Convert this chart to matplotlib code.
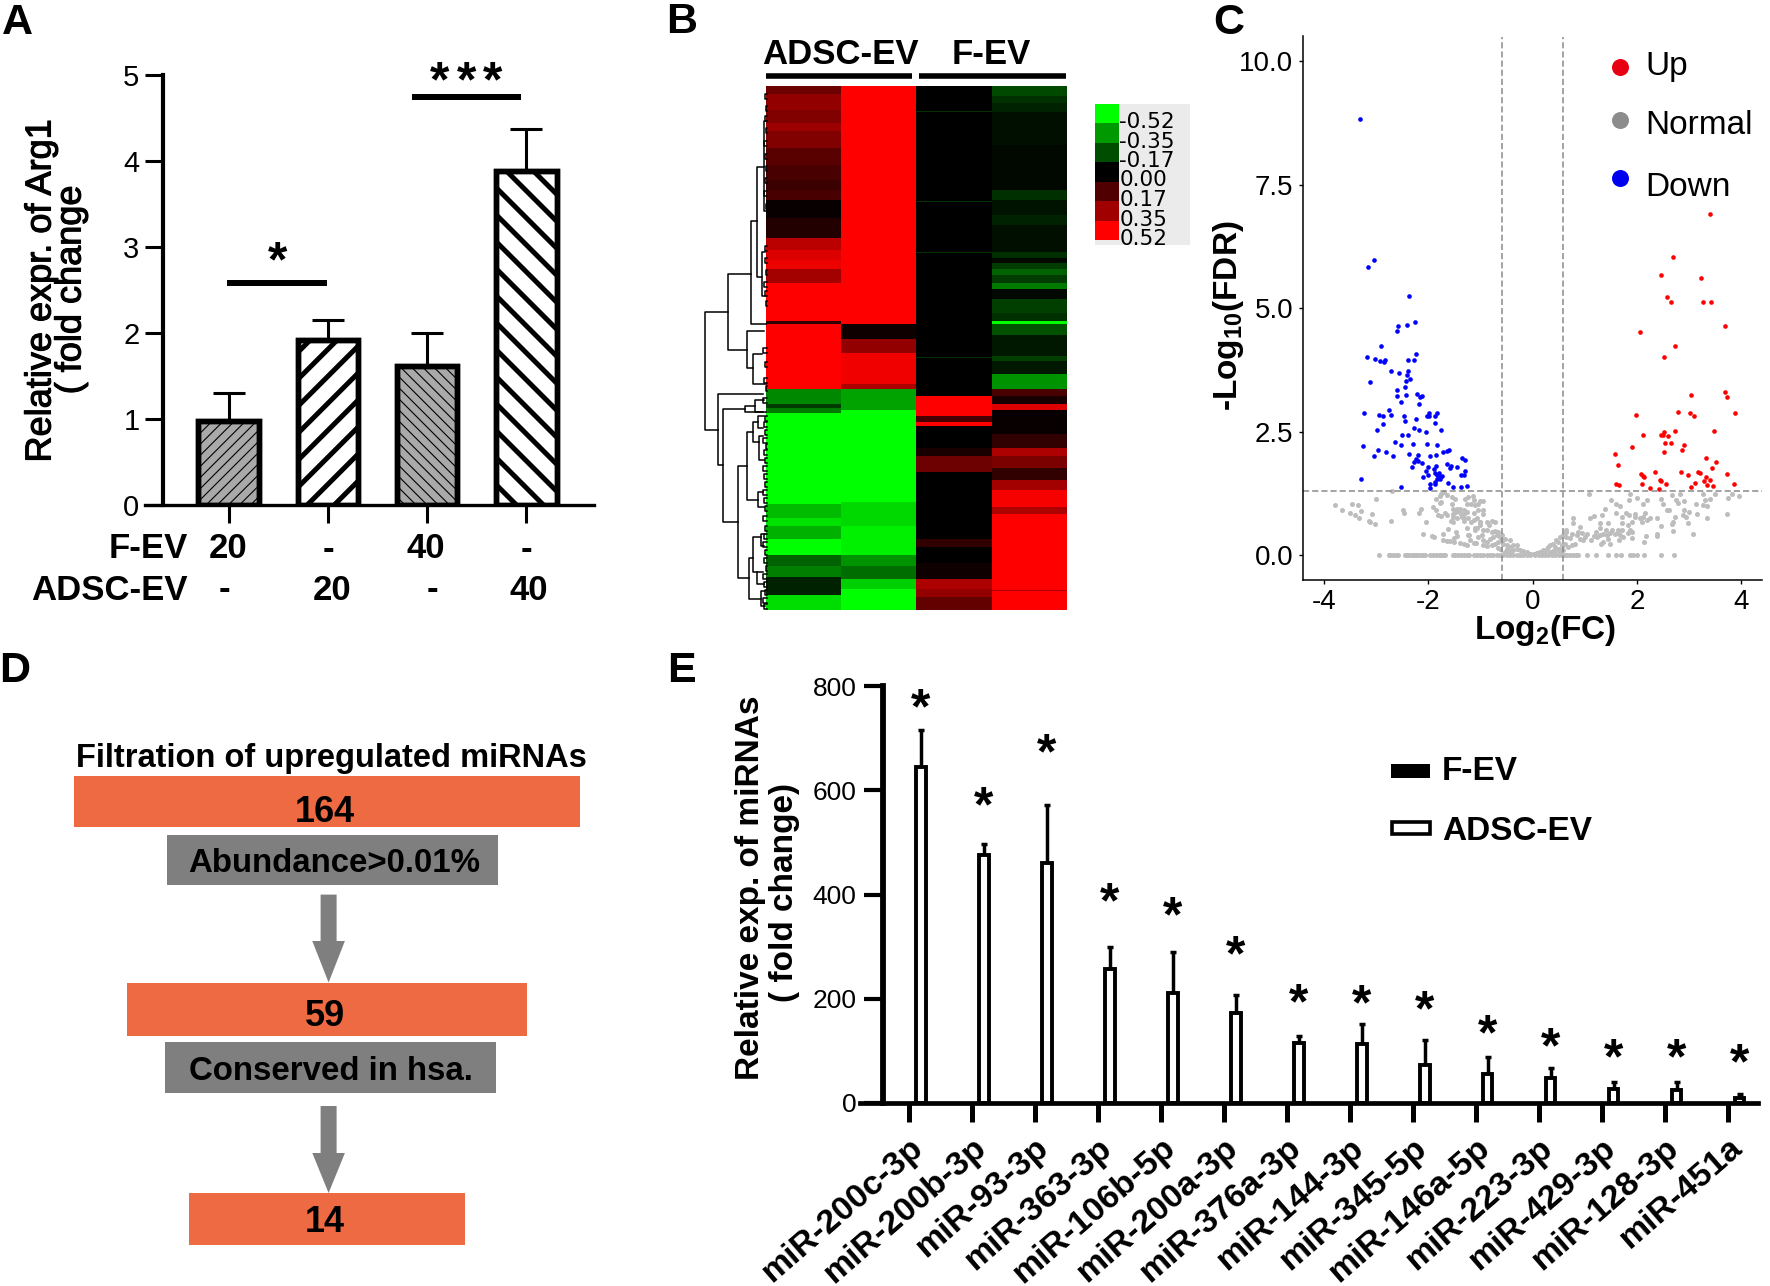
import numpy as np
import matplotlib
matplotlib.use('Agg')
import matplotlib.pyplot as plt
import matplotlib.patheffects as pe
from matplotlib import font_manager
from matplotlib.colors import LinearSegmentedColormap, ListedColormap
from matplotlib.patches import Rectangle, Polygon
from matplotlib.transforms import IdentityTransform

plt.rcParams['font.family'] = ['Liberation Sans', 'DejaVu Sans']
plt.rcParams['mathtext.default'] = 'regular'
plt.rcParams['hatch.linewidth'] = 0.8
plt.rcParams['axes.unicode_minus'] = False
# narrow face for the tick numbers if it is there, plain one otherwise
HAS_NARROW = 'Liberation Sans Narrow' in font_manager.get_font_names()
NARROW = 'Liberation Sans Narrow' if HAS_NARROW else 'Liberation Sans'

W, H = 1770, 1286

# panel A
arg1_means = [0.98, 1.92, 1.62, 3.88]
arg1_tops = [1.30, 2.15, 2.00, 4.37]
fev_row = ['20', '-', '40', '-']
adsc_row = ['-', '20', '-', '40']

# panel B, each column is (last row of a band, value of the band)
heat_stops_1 = [9, 25, 38, 46, 63, 80, 95, 105, 115, 133, 153, 165, 175, 184, 198, 236, 239, 303, 318, 322, 327, 418, 432, 440, 453, 469, 480, 491, 509, 524]
heat_vals_1 = [0.22, 0.30, 0.26, 0.32, 0.26, 0.18, 0.15, 0.12, 0.15, 0.02, 0.07, 0.38, 0.45, 0.48, 0.33, 0.52, 0.10, 0.52, -0.28, -0.12, -0.25, -0.52, -0.38, -0.46, -0.36, -0.52, -0.20, -0.26, -0.07, -0.45]
heat_stops_2 = [239, 254, 267, 298, 303, 324, 416, 440, 469, 480, 493, 503, 524]
heat_vals_2 = [0.52, 0.03, 0.30, 0.49, 0.35, -0.33, -0.52, -0.44, -0.49, -0.30, -0.22, -0.42, -0.52]
heat_stops_3 = [26, 27, 116, 117, 167, 168, 271, 272, 310, 330, 336, 340, 362, 370, 386, 453, 461, 477, 493, 503, 511, 524]
heat_vals_3 = [0, -0.1, 0, -0.1, 0, -0.1, 0, -0.1, 0, 0.52, 0.15, 0.52, 0, 0.05, 0.22, 0, 0.1, 0, 0.03, 0.35, 0.3, 0.2]
heat_stops_4 = [11, 18, 27, 60, 105, 115, 130, 140, 167, 173, 178, 184, 190, 198, 204, 214, 228, 236, 239, 250, 270, 275, 288, 303, 310, 318, 324, 348, 362, 370, 382, 394, 404, 421, 428, 504, 505, 524]
heat_vals_4 = [-0.15, -0.10, -0.07, -0.03, -0.02, -0.10, -0.04, -0.07, -0.03, -0.10, -0.02, -0.12, -0.20, -0.12, -0.25, -0.02, -0.13, -0.10, -0.52, -0.17, -0.05, -0.13, -0.05, -0.30, 0.15, 0.05, 0.45, 0.02, 0.10, 0.35, 0.25, 0.10, 0.33, 0.50, 0.35, 0.52, 0.35, 0.52]
scale_labels = ['-0.52', '-0.35', '-0.17', '0.00', '0.17', '0.35', '0.52']
scale_values = [-0.52, -0.35, -0.17, 0.0, 0.17, 0.35, 0.52]

# dendrogram merges: height, row 1, row 2, height of child 1, height of child 2
merges = [(62, 226, 344, 39, 49), (39, 188, 264, 16, 20), (16, 135, 238, 10, 0), (10, 81, 191, 3, 5),
          (3, 35, 125, 1, 1), (5, 166, 210, 2, 2), (20, 245, 282, 3, 14), (14, 268, 298, 5, 1),
          (49, 308, 379, 4, 44), (44, 323, 436, 22, 29), (22, 320, 326, 12, 4), (12, 314, 326, 3, 1),
          (29, 380, 492, 20, 18), (20, 346, 414, 14, 9), (14, 336, 356, 9, 8), (9, 330, 342, 3, 4),
          (8, 350, 374, 4, 3), (9, 406, 421, 4, 3), (18, 472, 513, 14, 6), (14, 451, 486, 6, 10),
          (10, 486, 498, 4, 3), (6, 448, 460, 2, 3), (6, 505, 520, 2, 2)]
twig_heights = [2, 1, 2, 1, 3, 2, 1, 2, 3, 1, 2, 2, 1, 3, 2, 1, 4, 2, 3, 1, 4, 2, 3, 2, 4, 1, 3, 2, 4, 3, 2, 4, 3, 2, 4, 2, 3, 4, 2, 3, 1, 4, 3, 2, 4, 3]
twig_rows = [8, 20, 30, 42, 55, 68, 80, 92, 105, 118, 160, 172, 184, 196, 205, 215, 262, 276, 292, 300, 312, 330, 336, 344, 352, 358, 364, 372, 380, 388, 396, 404, 412, 420, 430, 440, 448, 456, 464, 472, 480, 488, 496, 504, 512, 518]

# panel C
down_x = [-3.30, -3.04, -3.16, -2.37, -2.26, -2.58, -2.40, -2.60, -2.91, -2.23, -3.18, -3.02, -2.93, -2.85, -2.83, -2.39, -2.27, -2.72, -2.56, -2.39, -2.40, -2.34, -2.42, -3.11, -2.44, -2.60, -2.60, -2.42, -2.22, -2.12, -2.15, -2.53, -2.18, -2.76, -3.23, -2.94, -2.86, -2.72, -2.47, -1.98, -2.02, -1.99, -1.84, -1.87, -2.23, -2.44, -2.86, -1.86, -2.27, -2.18, -2.98, -1.75, -2.05, -2.50, -2.39, -2.64, -2.30, -2.03, -2.52, -3.25, -1.84, -2.97, -2.80, -1.61, -1.63, -1.71, -2.36, -2.19, -3.04, -2.68, -1.96, -1.85, -1.36, -1.30, -2.23, -2.19, -2.28, -2.11, -1.64, -1.56, -1.58, -1.85, -2.31, -2.01, -1.44, -1.89, -2.04, -1.29, -1.87, -1.79, -1.38, -1.31, -2.01, -1.73, -2.10, -1.84, -1.77, -1.83, -3.28, -1.78, -1.86, -1.62, -1.97, -1.87, -2.52, -1.25, -1.53, -1.38, -1.96]
down_y = [8.83, 5.97, 5.84, 5.24, 4.71, 4.64, 4.65, 4.54, 4.24, 4.07, 4.00, 3.96, 3.93, 3.91, 3.94, 3.94, 3.94, 3.73, 3.69, 3.73, 3.65, 3.56, 3.52, 3.50, 3.40, 3.35, 3.23, 3.24, 3.27, 3.21, 3.19, 3.09, 3.06, 2.93, 2.88, 2.83, 2.81, 2.84, 2.81, 2.88, 2.81, 2.82, 2.88, 2.81, 2.76, 2.71, 2.66, 2.67, 2.57, 2.54, 2.53, 2.53, 2.49, 2.43, 2.43, 2.28, 2.24, 2.25, 2.22, 2.20, 2.22, 2.13, 2.09, 2.13, 2.10, 2.09, 2.05, 2.03, 2.00, 2.01, 2.00, 2.02, 1.97, 1.93, 1.94, 1.90, 1.88, 1.87, 1.85, 1.81, 1.77, 1.81, 1.79, 1.78, 1.78, 1.75, 1.71, 1.70, 1.67, 1.67, 1.63, 1.63, 1.62, 1.61, 1.58, 1.63, 1.58, 1.54, 1.53, 1.53, 1.48, 1.46, 1.43, 1.43, 1.37, 1.39, 1.37, 1.37, 1.35]
up_x = [3.40, 2.70, 2.47, 3.24, 2.58, 2.66, 3.27, 3.42, 3.70, 2.06, 2.73, 2.52, 3.69, 3.04, 3.73, 2.78, 3.02, 3.10, 3.88, 1.99, 2.74, 3.48, 2.53, 2.51, 2.47, 2.60, 2.11, 2.54, 2.65, 2.90, 1.91, 2.86, 1.59, 2.52, 3.32, 3.52, 1.63, 3.44, 2.84, 2.34, 3.18, 3.21, 2.08, 2.98, 2.12, 2.14, 3.72, 3.32, 2.44, 2.47, 3.29, 3.41, 1.61, 1.66, 2.10, 2.55, 3.12, 3.34, 3.86, 3.03, 3.47, 2.25, 2.43]
up_y = [6.91, 6.04, 5.67, 5.61, 5.23, 5.13, 5.13, 5.12, 4.63, 4.51, 4.24, 4.01, 3.30, 3.24, 3.20, 2.89, 2.87, 2.81, 2.87, 2.83, 2.52, 2.52, 2.49, 2.44, 2.43, 2.41, 2.44, 2.27, 2.26, 2.22, 2.18, 2.13, 2.05, 2.08, 1.97, 1.89, 1.82, 1.77, 1.68, 1.69, 1.69, 1.66, 1.65, 1.62, 1.60, 1.57, 1.65, 1.57, 1.51, 1.49, 1.49, 1.51, 1.43, 1.42, 1.44, 1.44, 1.45, 1.42, 1.43, 1.38, 1.39, 1.35, 1.34]
normal_left_x = [-3.79, -3.46, -3.34, -3.65, -3.29, -3.50, -3.40, -3.08, -3.32, -3.14, -3.11, -3.02, -3.00, -2.70, -2.49, -2.47, -2.72, -2.13, -2.17, -2.05, -2.10, -1.93, -1.88, -1.62, -1.71, -1.47, -1.45, -1.71, -1.64, -1.58, -1.50, -1.50, -1.39, -1.32, -1.26, -1.20, -1.21, -1.13, -1.09, -1.10, -1.06, -1.00,
                 -1.85, -1.75, -1.69, -1.64, -1.75, -1.78, -1.55, -1.49, -1.29, -1.23, -1.15, -1.13, -1.00, -0.94, -1.78, -1.90, -1.85, -1.55, -1.53, -1.45, -1.39, -1.32, -1.26, -1.17, -1.10, -1.04,
                 -1.82, -1.76, -1.68, -1.63, -1.52, -1.47, -1.41, -1.38, -1.32, -1.26, -1.13, -1.05, -0.94, -1.53, -1.45, -1.36, -1.31, -1.23, -1.17, -1.07, -0.94,
                 -1.57, -1.52, -1.32, -1.13, -1.01, -0.88, -0.78, -0.72, -0.84, -1.26, -1.10, -1.01, -0.94, -0.88, -0.78, -0.72, -0.66,
                 -1.23, -1.04, -0.97, -0.94, -0.88, -0.81, -0.75, -0.69, -0.62, -0.59, -0.94, -0.88, -0.78, -0.72, -0.66, -0.59, -0.53,
                 -0.56, -0.49, -0.43, -0.43, -0.37, -0.30, -0.24, -0.18, -0.11, -0.05, 0.02, 0.08, 0.14, -0.37, -0.30, -0.49, -0.62, -0.53, -0.43, -0.66]
normal_left_y = [1.02, 1.04, 1.01, 0.92, 0.89, 0.86, 0.81, 0.83, 0.74, 0.69, 0.67, 0.62, 1.14, 1.29, 0.92, 0.86, 0.68, 0.94, 0.86, 0.67, 0.43, 0.38, 0.36, 0.52, 0.43, 0.47, 0.39, 0.31, 0.29, 0.29, 0.27, 0.35, 0.25, 0.23, 0.21, 0.30, 0.40, 0.25, 0.25, 0.50, 0.54, 0.67,
                 1.14, 1.23, 1.28, 1.21, 1.08, 1.19, 1.18, 1.14, 1.14, 1.18, 1.19, 1.11, 1.10, 1.10, 1.05, 0.97, 0.91, 1.03, 0.94, 0.94, 0.94, 0.92, 1.03, 1.03, 1.01, 1.03,
                 0.81, 0.79, 0.85, 0.81, 0.84, 0.87, 0.89, 0.84, 0.84, 0.87, 0.86, 0.91, 0.91, 0.76, 0.74, 0.77, 0.74, 0.74, 0.67, 0.74, 0.84,
                 0.69, 0.66, 0.69, 0.70, 0.67, 0.67, 0.69, 0.67, 0.60, 0.54, 0.54, 0.60, 0.50, 0.50, 0.47, 0.49, 0.47,
                 0.40, 0.37, 0.40, 0.30, 0.27, 0.33, 0.37, 0.40, 0.37, 0.40, 0.20, 0.18, 0.20, 0.23, 0.27, 0.30, 0.33,
                 0.23, 0.20, 0.16, 0.30, 0.20, 0.13, 0.11, 0.08, 0.06, 0.03, 0.02, 0.04, 0.06, 0.10, 0.20, 0.13, 0.13, 0.06, 0.06, 0.15]
normal_right_x = [1.09, 1.86, 1.50, 2.01, 2.20, 1.85, 1.60, 1.68, 2.11, 2.46, 2.51, 2.67, 2.76, 2.79, 2.90, 2.83, 3.13, 3.27, 3.34, 3.30, 3.40, 3.50, 3.26, 3.75, 3.82, 3.96, 3.73, 2.57, 2.61, 2.90, 3.00, 3.15, 2.89, 2.95, 3.34, 2.73, 2.70, 2.67, 2.99, 2.69, 3.07, 2.46, 2.38, 2.16, 2.12, 2.19, 2.25, 2.06, 2.09, 1.80, 1.85, 1.96, 1.96, 1.90, 1.84, 1.71, 1.61, 1.71, 1.39, 1.34, 1.17, 1.10, 0.77, 0.78, 0.91, 1.29, 1.45, 1.29, 1.21, 1.41, 1.52, 1.87, 1.90, 1.84, 2.38, 2.39, 2.17, 2.14, 1.91, 1.64, 1.71, 1.63, 1.68, 1.58, 1.48, 1.42, 1.36, 1.29, 1.23, 1.17, 1.13, 1.04, 1.01, 0.94, 0.88, 0.85, 0.75, 0.65, 0.72, 0.64, 0.91, 0.97, 0.81, 0.75, 0.69, 0.62, 1.31, 1.36, 1.48, 1.45, 1.66, 1.74, 0.59, -0.05, 0.02, 0.08, 0.14, 0.21, 0.27, 0.30, 0.34, 0.40, 0.43, 0.46, 0.49, 0.53, 0.56, 0.59, 0.51, 0.40, 0.46, 0.34, 0.24, 0.14, 0.53, 0.59, 0.64]
normal_right_y = [1.24, 1.24, 1.12, 1.16, 1.12, 1.11, 1.03, 0.99, 1.03, 1.14, 1.04, 1.21, 1.12, 1.05, 1.10, 1.24, 1.04, 1.01, 0.99, 1.12, 1.14, 1.23, 1.23, 1.16, 1.24, 1.20, 0.83, 0.91, 0.91, 0.92, 0.87, 0.84, 0.81, 0.77, 0.74, 0.76, 0.67, 0.62, 0.64, 0.49, 0.43, 0.58, 0.74, 0.86, 0.77, 0.70, 0.74, 0.74, 0.67, 0.86, 0.81, 0.84, 0.76, 0.67, 0.60, 0.64, 0.86, 0.77, 0.94, 0.81, 0.79, 0.75, 0.74, 0.64, 0.57, 0.64, 0.64, 0.55, 0.47, 0.51, 0.50, 0.50, 0.47, 0.45, 0.43, 0.38, 0.38, 0.26, 0.35, 0.50, 0.50, 0.45, 0.40, 0.43, 0.45, 0.40, 0.43, 0.40, 0.37, 0.38, 0.30, 0.43, 0.37, 0.45, 0.47, 0.40, 0.43, 0.47, 0.35, 0.37, 0.33, 0.30, 0.23, 0.20, 0.16, 0.23, 0.23, 0.27, 0.23, 0.33, 0.30, 0.37, 0.20, 0.02, 0.03, 0.04, 0.06, 0.10, 0.12, 0.16, 0.20, 0.23, 0.16, 0.30, 0.27, 0.37, 0.20, 0.40, 0.13, 0.09, 0.09, 0.06, 0.04, 0.02, 0.06, 0.10, 0.50]
zero_x = [-2.95, -2.76, -2.73, -2.67, -2.61, -2.57, -2.45, -2.41, -2.37, -2.31, -2.27, -2.23, -2.19, -2.14, -2.09, -2.06, -1.96, -1.91, -1.85, -1.80, -1.76, -1.71, -1.68, -1.53, -1.48, -1.42, -1.38, -1.32, -1.26, -1.21, -1.13, -1.07, -1.01, -0.94, -0.88, -0.81, -0.75, -0.69, -0.62, -0.56, -0.49, -0.43, -0.37, -0.30, -0.24, -0.18, -0.11, -0.05, 0.05, 0.12, 0.18, 0.24, 0.30, 0.37, 0.43, 0.50, 0.56, 0.62, 0.66, 0.72, 0.78, 0.84, 0.88, 1.05, 1.21, 1.45, 1.61, 1.69, 1.87, 1.93, 2.01, 2.14, 2.47, 2.71]
fdr_cut = 1.3
fc_cut = 0.58

# panel D
flow_counts = ['164', '59', '14']
flow_steps = ['Abundance>0.01%', 'Conserved in hsa.']

# panel E
mirnas = ['miR-200c-3p', 'miR-200b-3p', 'miR-93-3p', 'miR-363-3p', 'miR-106b-5p', 'miR-200a-3p', 'miR-376a-3p', 'miR-144-3p', 'miR-345-5p', 'miR-146a-5p', 'miR-223-3p', 'miR-429-3p', 'miR-128-3p', 'miR-451a']
adsc_means = [645, 475, 461, 258, 211, 172, 115, 113, 73, 56, 48, 26, 24, 9]
adsc_tops = [716, 496, 572, 300, 290, 208, 129, 152, 121, 89, 67, 41, 41, 17]
fev_means = [1] * 14
star_heights = [773, 586, 687, 402, 374, 300, 207, 205, 195, 149, 124, 102, 102, 92]


def ax_px(x0, y0, x1, y1, **kw):
    return fig.add_axes([x0 / W, 1 - y1 / H, (x1 - x0) / W, (y1 - y0) / H], **kw)


def txt(x, y, s, size, **kw):
    kw.setdefault('ha', 'center')
    kw.setdefault('va', 'center')
    return over.text(x, y, s, fontsize=size, **kw)


def star(ax, x, y, s='*', size=36):
    # the asterisk sits high in its line, so push the baseline down
    ax.annotate(s, (x, y), xytext=(0, -0.47 * size), textcoords='offset points', ha='center', va='baseline',
                fontsize=size, fontweight='bold', annotation_clip=False)


def stripes(ax, bar, sign, step=27, lw=3.6):
    box = bar.get_window_extent()
    for c in np.arange(-box.height - box.width, box.height + box.width, step):
        xs = np.array([box.x0, box.x1])
        if sign > 0:
            ys = box.y0 + (xs - box.x0) + c
        else:
            ys = box.y1 - (xs - box.x0) + c
        ln, = ax.plot(xs, ys, color='k', lw=lw, transform=IdentityTransform(), zorder=2, solid_capstyle='butt')
        ln.set_clip_path(bar)


fig = plt.figure(figsize=(W / 100, H / 100), dpi=100)
over = ax_px(0, 0, W, H, zorder=10)
over.set_xlim(0, W)
over.set_ylim(H, 0)
over.axis('off')
over.patch.set_alpha(0)

for lab, x, y in [('A', 17, 23), ('B', 682, 22), ('C', 1229, 23), ('D', 15, 671), ('E', 681, 671)]:
    txt(x, y, lab, 31, fontweight='bold')

# ---- A
a = ax_px(145, 75, 594, 505)
a.set_xlim(-0.843, 3.683)
a.set_ylim(0, 5)
xa = np.arange(4)
bars = a.bar(xa, arg1_means, width=0.61, color=['#A9A9A9', 'white', '#A9A9A9', 'white'], edgecolor='k', lw=3.9, zorder=1)
bars[0].set_hatch('///')
bars[2].set_hatch('\\\\\\')
fig.canvas.draw()
stripes(a, bars[1], 1)
stripes(a, bars[3], -1)
for b in bars:
    a.add_patch(Rectangle(b.get_xy(), b.get_width(), b.get_height(), fill=False, ec='k', lw=3.9, zorder=3))
a.errorbar(xa, arg1_means, yerr=[np.zeros(4), np.array(arg1_tops) - np.array(arg1_means)], fmt='none',
           ecolor='k', elinewidth=2.2, capsize=11.5, capthick=2.2, zorder=0)
a.plot([-0.016, 0.99], [2.58, 2.58], color='k', lw=4.3, solid_capstyle='butt', clip_on=False)
a.plot([1.85, 2.95], [4.75, 4.75], color='k', lw=4.3, solid_capstyle='butt', clip_on=False)
star(a, 0.49, 2.93)
for x in [2.13, 2.40, 2.66]:
    star(a, x, 5.03)
for s in ['top', 'right']:
    a.spines[s].set_visible(False)
a.spines['left'].set_position(('data', -0.661))
a.spines['left'].set_linewidth(3)
a.spines['bottom'].set_linewidth(2.4)
a.set_xticks(xa)
a.set_xticklabels([])
a.set_yticks(range(6))
a.tick_params(axis='y', length=13, width=2.2, pad=4, labelsize=26 if HAS_NARROW else 21, labelfontfamily=NARROW)
a.tick_params(axis='x', length=13, width=2.2)
a.patch.set_alpha(0)
txt(188, 549, 'F-EV', 25, fontweight='bold', ha='right')
txt(188, 590, 'ADSC-EV', 25, fontweight='bold', ha='right')
for s, x in zip(fev_row, [228, 328, 426, 526]):
    txt(x, 549, s, 25, fontweight='bold')
for s, x in zip(adsc_row, [224, 332, 432, 529]):
    txt(x, 590, s, 25, fontweight='bold')
heavy = [pe.withStroke(linewidth=0.8, foreground='k')]
txt(41, 291, 'Relative expr. of Arg1', 26, rotation=90, path_effects=heavy)
txt(71, 290, '( fold change', 26, rotation=90, path_effects=heavy)

# ---- B
col_stops = [heat_stops_1, heat_stops_2, heat_stops_3, heat_stops_4]
col_vals = [heat_vals_1, heat_vals_2, heat_vals_3, heat_vals_4]
heat = np.column_stack([np.repeat(v, np.diff([0] + s)) for s, v in zip(col_stops, col_vals)])
cm = LinearSegmentedColormap.from_list('gkr', ['#00FF00', '#000000', '#FF0000'])
b = ax_px(766.4, 85.5, 1067, 609.6)
b.imshow(heat, aspect='auto', cmap=cm, vmin=-0.52, vmax=0.52, interpolation='nearest')
b.axis('off')
over.plot([765.7, 911.8], [76.3, 76.3], color='k', lw=4, solid_capstyle='butt')
over.plot([919, 1066], [76.3, 76.3], color='k', lw=4, solid_capstyle='butt')
txt(840, 54, 'ADSC-EV', 25, fontweight='bold')
txt(991, 54, 'F-EV', 25, fontweight='bold')

d = ax_px(695, 85.5, 767, 609.6)
d.set_xlim(72, 0)
d.set_ylim(524, 0)
d.axis('off')
for h, r1, r2, h1, h2 in merges:
    d.plot([h1, h, h, h2], [r1, r1, r2, r2], color='k', lw=1.1)
for h, r in zip(twig_heights, twig_rows):
    d.plot([0, h, h, 0], [r, r, r + 5, r + 5], color='k', lw=1.1, clip_on=False)

over.add_patch(Rectangle((1095, 104), 95, 141, color='#EBEBEB', lw=0, zorder=1))
sc = ax_px(1095, 104, 1119, 240, zorder=11)
sc.imshow(np.array(scale_values)[:, None], aspect='auto', cmap=ListedColormap(['#00FF00', '#009A00', '#004D00', '#000000', '#500000', '#A00000', '#FF0000']), interpolation='nearest')
sc.axis('off')
for i, s in enumerate(scale_labels):
    over.text(1120 if s[0] != '-' else 1119, 122 + i * 19.5, s, fontsize=15.5, family='DejaVu Sans', ha='left', va='center', zorder=12)

# ---- C
c = ax_px(1303, 36.5, 1762, 579.7)
c.set_xlim(-4.4, 4.4)
c.set_ylim(-0.5, 10.5)
c.scatter(normal_left_x + normal_right_x, normal_left_y + normal_right_y, s=13, color='#BDBDBD', lw=0)
c.scatter(zero_x, [0] * len(zero_x), s=13, color='#BDBDBD', lw=0)
c.scatter(up_x, up_y, s=11, color='#FF0000', lw=0)
c.scatter(down_x, down_y, s=11, color='#0000FF', lw=0)
c.axhline(fdr_cut, color='#8A8A8A', lw=1.1, ls=(0, (4, 2)))
c.axvline(-fc_cut, color='#8A8A8A', lw=1.1, ls=(0, (4, 2)))
c.axvline(fc_cut, color='#8A8A8A', lw=1.1, ls=(0, (4, 2)))
for s in ['top', 'right']:
    c.spines[s].set_visible(False)
c.spines['left'].set_linewidth(1.1)
c.spines['bottom'].set_linewidth(1.1)
c.set_xticks([-4, -2, 0, 2, 4])
c.set_yticks([0, 2.5, 5, 7.5, 10])
c.set_yticklabels(['0.0', '2.5', '5.0', '7.5', '10.0'])
c.tick_params(length=3, width=1, pad=4, labelsize=23 if HAS_NARROW else 20, labelfontfamily=NARROW)
txt(1229, 316, '-Log$_{10}$(FDR)', 24, fontweight='bold', rotation=90)
txt(1545, 631, 'Log$_{2}$(FC)', 24, fontweight='bold')
for lab, col, ym, yt in [('Up', '#E60012', 67, 67), ('Normal', '#8C8C8C', 119.5, 126), ('Down', '#0000F0', 178, 187)]:
    over.scatter([1620], [ym], s=150, color=col, lw=0)
    txt(1645, yt, lab, 24, ha='left')

# ---- D
orange = '#EE6A43'
grey = '#7F7F7F'
txt(331, 759, 'Filtration of upregulated miRNAs', 23.5, fontweight='bold')
orange_boxes = [(73.5, 775.7, 580, 827), (126.5, 983, 527, 1035.5), (189.4, 1193, 464.5, 1245)]
count_pos = [(324.5, 812), (325, 1017), (325, 1222)]
for box, s, pos in zip(orange_boxes, flow_counts, count_pos):
    over.add_patch(Rectangle((box[0], box[1]), box[2] - box[0], box[3] - box[1], color=orange, lw=0))
    txt(pos[0], pos[1], s, 26, fontweight='bold')
grey_boxes = [(166.5, 834.7, 497.5, 884.5), (165, 1042, 496, 1092.6)]
step_pos = [(334, 863), (330.6, 1071)]
for box, s, pos in zip(grey_boxes, flow_steps, step_pos):
    over.add_patch(Rectangle((box[0], box[1]), box[2] - box[0], box[3] - box[1], color=grey, lw=0))
    txt(pos[0], pos[1], s, 23.8, fontweight='bold')
for y0, yh, yt in [(894.6, 941, 982.5), (1106, 1153, 1193)]:
    xc = 328.6
    over.add_patch(Polygon([(xc - 8, y0), (xc + 8, y0), (xc + 8, yh), (xc + 16.3, yh), (xc, yt), (xc - 16.3, yh), (xc - 8, yh)],
                           color=grey, lw=0))

# ---- E
e = ax_px(860, 686, 1758, 1103)
e.set_xlim(-0.776, 13.48)
e.set_ylim(0, 800)
xe = np.arange(14)
off = 0.19
e.bar(xe - off, fev_means, width=0.15, color='k', lw=0, zorder=1)
e.bar(xe + off, adsc_means, width=0.15, color='white', edgecolor='k', lw=2.8, zorder=2)
e.errorbar(xe + off, adsc_means, yerr=[np.zeros(14), np.array(adsc_tops) - np.array(adsc_means)], fmt='none',
           ecolor='k', elinewidth=2.5, capsize=2.5, capthick=2.5, zorder=1)
for x, y in zip(xe + off, star_heights):
    star(e, x, y)
for s in ['top', 'right']:
    e.spines[s].set_visible(False)
e.spines['left'].set_position(('data', (882.8 - 908.9) / 63))
e.spines['left'].set_linewidth(4.2)
e.spines['bottom'].set_linewidth(3.4)
e.set_xticks(xe)
e.set_xticklabels([])
e.set_yticks(range(0, 801, 200))
e.tick_params(axis='y', length=14, width=3, pad=5, labelsize=22 if HAS_NARROW else 19, labelfontfamily=NARROW)
e.tick_params(axis='x', length=14, width=3.6)
e.patch.set_alpha(0)
for i, s in enumerate(mirnas):
    px = 908.9 + 63 * i
    txt(px, 1132, s, 24.5, fontweight='bold', rotation=41, rotation_mode='anchor', ha='right', va='top')
txt(750, 888, 'Relative exp. of miRNAs', 24, fontweight='bold', rotation=90)
txt(784, 893, '( fold change)', 24, fontweight='bold', rotation=90)
over.add_patch(Rectangle((1391, 764), 39, 14, color='k', lw=0))
over.add_patch(Rectangle((1392, 822), 38, 12, fc='white', ec='k', lw=2.6))
txt(1442, 772, 'F-EV', 24, fontweight='bold', ha='left')
txt(1442, 832, 'ADSC-EV', 24, fontweight='bold', ha='left')

fig.savefig('out.png', dpi=100)
